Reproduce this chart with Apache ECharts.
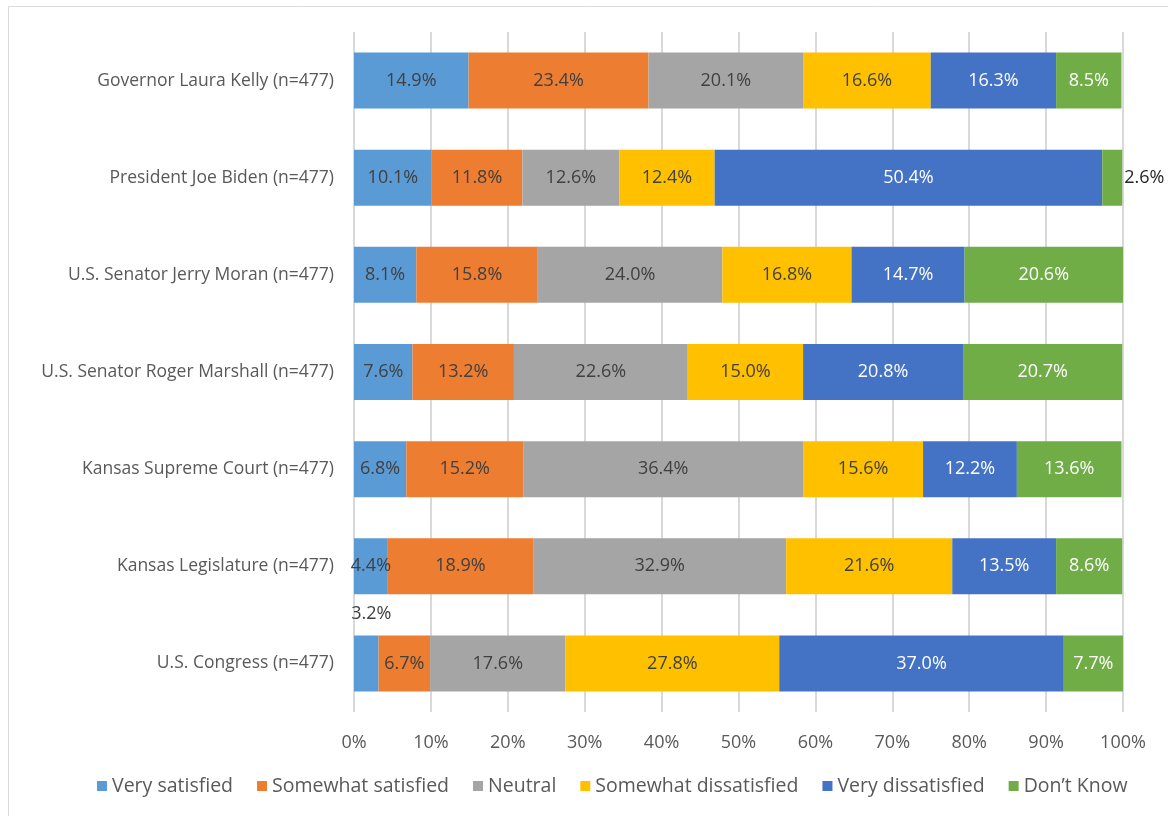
<!DOCTYPE html>
<html>
<head>
<meta charset="utf-8">
<script src="https://cdn.jsdelivr.net/npm/echarts@6/dist/echarts.min.js"></script>
<style>
  html, body { margin: 0; padding: 0; background: #fff; }
  #chart { width: 1168px; height: 816px; }
</style>
</head>
<body>
<div id="chart"></div>
<script>
// categories, top to bottom
var categories = [
  'Governor Laura Kelly (n=477)',
  'President Joe Biden (n=477)',
  'U.S. Senator Jerry Moran (n=477)',
  'U.S. Senator Roger Marshall (n=477)',
  'Kansas Supreme Court (n=477)',
  'Kansas Legislature (n=477)',
  'U.S. Congress (n=477)'
];
var seriesNames = ['Very satisfied', 'Somewhat satisfied', 'Neutral', 'Somewhat dissatisfied', 'Very dissatisfied', 'Don\u2019t Know'];
var verySatisfied = [14.9, 10.1, 8.1, 7.6, 6.8, 4.4, 3.2];
var somewhatSatisfied = [23.4, 11.8, 15.8, 13.2, 15.2, 18.9, 6.7];
var neutral = [20.1, 12.6, 24.0, 22.6, 36.4, 32.9, 17.6];
var somewhatDissatisfied = [16.6, 12.4, 16.8, 15.0, 15.6, 21.6, 27.8];
var veryDissatisfied = [16.3, 50.4, 14.7, 20.8, 12.2, 13.5, 37.0];
var dontKnow = [8.5, 2.6, 20.6, 20.7, 13.6, 8.6, 7.7];
var xTicks = [0, 10, 20, 30, 40, 50, 60, 70, 80, 90, 100];

var colors = ['#5B9BD5', '#ED7D31', '#A5A5A5', '#FFC000', '#4472C4', '#70AD47'];
var labelColors = ['#404040', '#404040', '#404040', '#404040', '#ffffff', '#ffffff'];
var font = '"Open Sans", "Liberation Sans", sans-serif';

var allValues = [verySatisfied, somewhatSatisfied, neutral, somewhatDissatisfied, veryDissatisfied, dontKnow];

var series = allValues.map(function (vals, si) {
  return {
    name: seriesNames[si],
    type: 'bar',
    stack: 'total',
    barWidth: 56,
    itemStyle: { color: colors[si] },
    label: {
      show: true,
      position: 'inside',
      color: labelColors[si],
      fontSize: 18,
      fontFamily: font,
      formatter: function (p) { return p.value.toFixed(1) + '%'; }
    },
    data: vals.map(function (v, ci) {
      var d = { value: v };
      // small segments: Excel moved these labels outside
      if (si === 5 && ci === 1) {
        d.label = { position: 'right', distance: 2, color: '#262626' };
      }
      if (si === 0 && ci === 6) {
        d.label = { position: 'top', distance: 13, offset: [5, 0], color: '#404040' };
      }
      return d;
    })
  };
});

var chart = echarts.init(document.getElementById('chart'));
chart.setOption({
  animation: false,
  textStyle: { fontFamily: font },
  graphic: [{
    type: 'rect',
    shape: { x: 8.5, y: 6.5, width: 1180, height: 830 },
    style: { fill: 'none', stroke: '#d9d9d9', lineWidth: 1 },
    silent: true
  }],
  grid: { left: 354, right: 45, top: 32, bottom: 104 },
  legend: {
    bottom: 15,
    left: 92,
    itemWidth: 10,
    itemHeight: 10,
    itemGap: 24,
    icon: 'rect',
    textStyle: { color: '#595959', fontSize: 19.5, fontFamily: font },
    data: seriesNames
  },
  xAxis: {
    type: 'value',
    min: xTicks[0],
    max: xTicks[xTicks.length - 1],
    interval: 10,
    axisLine: { show: false },
    axisTick: { show: false },
    axisLabel: { color: '#595959', fontSize: 18, margin: 22, formatter: '{value}%' },
    splitLine: { lineStyle: { color: '#d9d9d9', width: 2 } }
  },
  yAxis: {
    type: 'category',
    inverse: true,
    data: categories,
    axisLine: { show: false },
    axisTick: { show: false },
    axisLabel: { color: '#595959', fontSize: 17.5, margin: 20 }
  },
  series: series
});
</script>
</body>
</html>
